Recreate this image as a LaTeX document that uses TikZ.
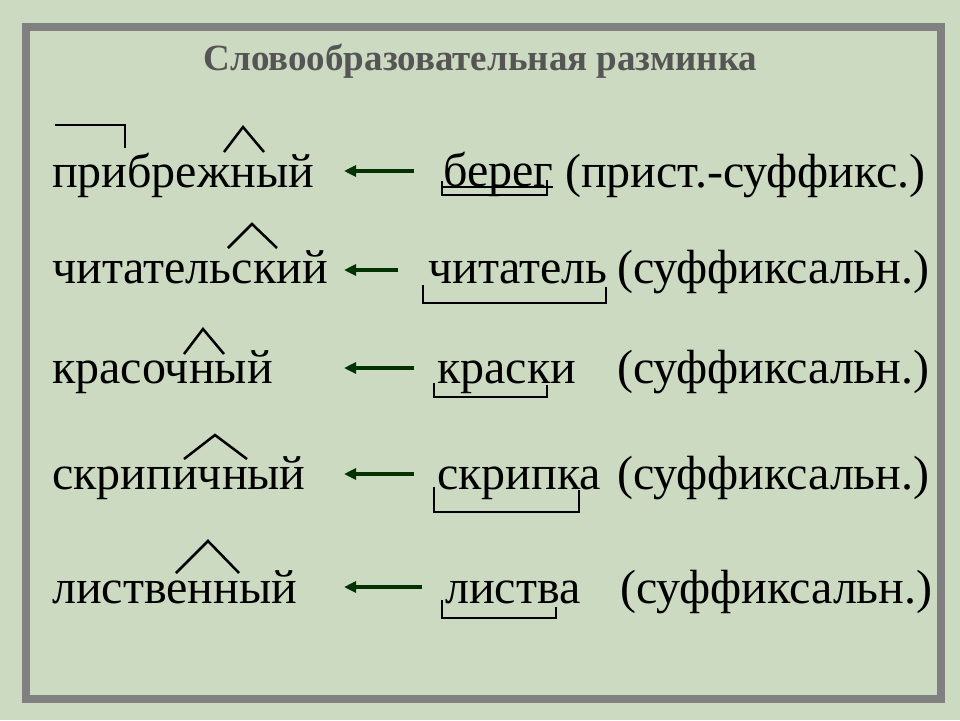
\documentclass[tikz,border=0pt]{standalone}
\usepackage{fontspec}
\setmainfont{LiberationSerif}[Extension=.ttf, UprightFont=*-Regular, BoldFont=*-Bold, ItalicFont=*-Italic, BoldItalicFont=*-BoldItalic]
\usetikzlibrary{arrows.meta}
\definecolor{bg}{RGB}{204,218,193}
\definecolor{framegray}{RGB}{128,128,128}
\definecolor{arrgreen}{RGB}{0,51,0}
\definecolor{titlegray}{RGB}{85,85,85}
\begin{document}
\begin{tikzpicture}[x=1pt,y=-1pt,
  word/.style={anchor=base west, inner sep=0pt, font=\fontsize{48}{54}\selectfont},
  titletext/.style={anchor=base, inner sep=0pt, text=titlegray, font=\bfseries\fontsize{37}{43}\selectfont},
  morph/.style={line width=2.5pt, black, line join=miter},
  uline/.style={line width=1.3pt, black},
  arr/.style={-{Triangle[length=12pt,width=11pt]}, line width=4pt, arrgreen}]
\useasboundingbox (0,0) rectangle (960,720);
\fill[bg] (0,0) rectangle (960,720);
\draw[framegray, line width=8pt] (26,27) rectangle (941,699);

\node[titletext] (title) at (480.5,70) {Словообразовательная разминка};

% row 1
\node[word] (d1) at (52,187) {прибрежный};
\node[word] (b1) at (443,186) {берег};
\node[word] (m1) at (565,187) {(прист.-суффикс.)};
\coordinate (s1) at (414,171); \coordinate (e1) at (344,171);
\draw[arr] (s1) -- (e1);
\draw[morph] (55,125) -- (125,125) -- (125,148);
\draw[morph] (224,152) -- (243,127) -- (264,152);
\draw[uline] ([yshift=-1pt]b1.base west) -- ([yshift=-1pt]b1.base east);
\draw[morph] (442,181) -- (442,195) -- (547,195) -- (547,180);

% row 2
\node[word] (d2) at (52,283) {читательский};
\node[word] (b2) at (428,283) {читатель};
\node[word] (m2) at (617,283) {(суффиксальн.)};
\coordinate (s2) at (398,270); \coordinate (e2) at (344,270);
\draw[arr] (s2) -- (e2);
\draw[morph] (228,248) -- (252,224) -- (277,248);
\draw[morph] (423,285) -- (423,303) -- (606,303) -- (606,287);

% row 3
\node[word] (d3) at (52,383) {красочный};
\node[word] (b3) at (437,383) {краски};
\node[word] (m3) at (617,383) {(суффиксальн.)};
\coordinate (s3) at (414,368); \coordinate (e3) at (344,368);
\draw[arr] (s3) -- (e3);
\draw[morph] (184,354) -- (203,329) -- (224,354);
\draw[morph] (434,383) -- (434,397) -- (547,397) -- (547,385);

% row 4
\node[word] (d4) at (52,489) {скрипичный};
\node[word] (b4) at (437,489) {скрипка};
\node[word] (m4) at (617,489) {(суффиксальн.)};
\coordinate (s4) at (414,474); \coordinate (e4) at (344,474);
\draw[arr] (s4) -- (e4);
\draw[morph] (184,459) -- (215,435) -- (247,459);
\draw[morph] (434,487) -- (434,512) -- (579,512) -- (579,490);

% row 5
\node[word] (d5) at (52,603) {лиственный};
\node[word] (b5) at (445,603) {листва};
\node[word] (m5) at (620,603) {(суффиксальн.)};
\coordinate (s5) at (422,587); \coordinate (e5) at (344,587);
\draw[arr] (s5) -- (e5);
\draw[morph] (176,573) -- (208,541) -- (239,573);
\draw[morph] (442,600) -- (442,618) -- (556,618) -- (556,607);
\end{tikzpicture}
\end{document}
